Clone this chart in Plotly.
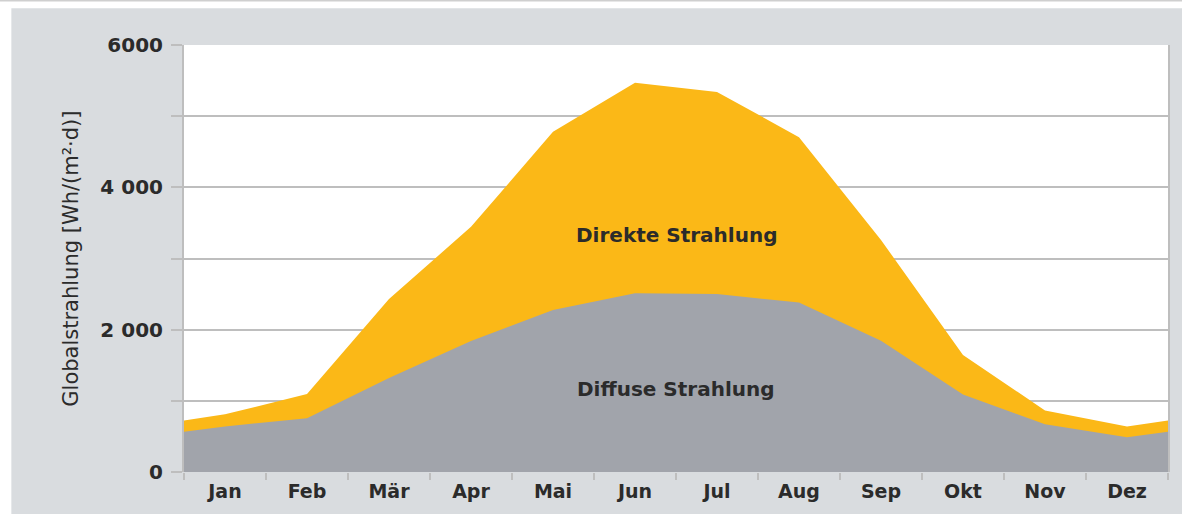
import plotly.graph_objects as go

months = ["Jan", "Feb", "Mär", "Apr", "Mai", "Jun", "Jul", "Aug", "Sep", "Okt", "Nov", "Dez"]
global_total = [810, 1095, 2430, 3445, 4780, 5470, 5340, 4705, 3260, 1645, 865, 640]
diffuse = [640, 755, 1320, 1840, 2275, 2510, 2500, 2380, 1845, 1090, 670, 490]
y_tickvals = [0, 1000, 2000, 3000, 4000, 5000, 6000]
y_ticktext = ["0", "", "2 000", "", "4 000", "", "6000"]

# month centres; wrap Dez before Jan and Jan after Dez so the curve runs to the plot edges
xc = [i + 0.5 for i in range(12)]
x_wrap = [-0.5] + xc + [12.5]
tot_wrap = [global_total[-1]] + global_total + [global_total[0]]
dif_wrap = [diffuse[-1]] + diffuse + [diffuse[0]]

ORANGE = "#FBB817"
GREY = "#A1A4AB"
BG = "#D9DCDF"
GRID = "#BEBEBE"
TXT = "#2B2B2B"

fig = go.Figure()
fig.add_trace(go.Scatter(x=x_wrap, y=tot_wrap, mode="lines", fill="tozeroy",
                         fillcolor=ORANGE, line=dict(width=0, color=ORANGE),
                         hoverinfo="skip", showlegend=False))
fig.add_trace(go.Scatter(x=x_wrap, y=dif_wrap, mode="lines", fill="tozeroy",
                         fillcolor=GREY, line=dict(width=0, color=GREY),
                         hoverinfo="skip", showlegend=False))

fig.update_layout(
    width=1182, height=514,
    margin=dict(l=184, r=12, t=45, b=39),
    paper_bgcolor=BG, plot_bgcolor="white",
    font=dict(family="DejaVu Sans", color=TXT),
    xaxis=dict(
        range=[0, 12], tickmode="array", tickvals=xc, ticktext=months,
        ticks="", showgrid=False, zeroline=False,
        showline=False,
        tickfont=dict(family="DejaVu Sans", size=19, color=TXT, weight="bold"),
        ticklabelstandoff=6,
        minor=dict(tickmode="array", tickvals=list(range(13)), ticks="outside",
                   ticklen=7, tickwidth=2, tickcolor=GRID, showgrid=False),
    ),
    yaxis=dict(
        range=[0, 6000], tickmode="array", tickvals=y_tickvals, ticktext=y_ticktext,
        ticks="outside", ticklen=11, tickwidth=2, tickcolor=GRID,
        showgrid=True, gridcolor=GRID, gridwidth=2,
        zeroline=False, showline=True, linecolor=GRID, linewidth=2, mirror=True,
        tickfont=dict(family="DejaVu Sans", size=20, color=TXT, weight="bold"),
        ticklabelstandoff=4,
    ),
    annotations=[
        dict(x=6, y=3335, xref="x", yref="y", text="Direkte Strahlung", showarrow=False,
             font=dict(family="DejaVu Sans", size=20, color=TXT, weight="bold")),
        dict(x=6, y=1170, xref="x", yref="y", text="Diffuse Strahlung", showarrow=False,
             font=dict(family="DejaVu Sans", size=20, color=TXT, weight="bold")),
        dict(x=(70 - 184) / 986, y=(475 - 260) / 430, xref="paper", yref="paper",
             text="Globalstrahlung [Wh/(m²·d)]", showarrow=False, textangle=-90,
             xanchor="center", yanchor="middle",
             font=dict(family="DejaVu Sans", size=21, color=TXT)),
    ],
    shapes=[
        dict(type="rect", xref="paper", yref="paper", x0=-0.2, x1=(11 - 184) / 986,
             y0=-0.2, y1=1.2, fillcolor="white", line=dict(width=0), layer="above"),
        dict(type="rect", xref="paper", yref="paper", x0=-0.2, x1=1.1,
             y0=(475 - 8) / 430, y1=1.2, fillcolor="white", line=dict(width=0), layer="above"),
        dict(type="line", xref="paper", yref="paper", x0=-0.2, x1=1.1,
             y0=(475 - 0.5) / 430, y1=(475 - 0.5) / 430, line=dict(width=1.5, color="#CFCFCF"),
             layer="above"),
    ],
)

fig.write_html("out.html", config={"displayModeBar": False},
               post_script="document.body.style.margin='0';")
